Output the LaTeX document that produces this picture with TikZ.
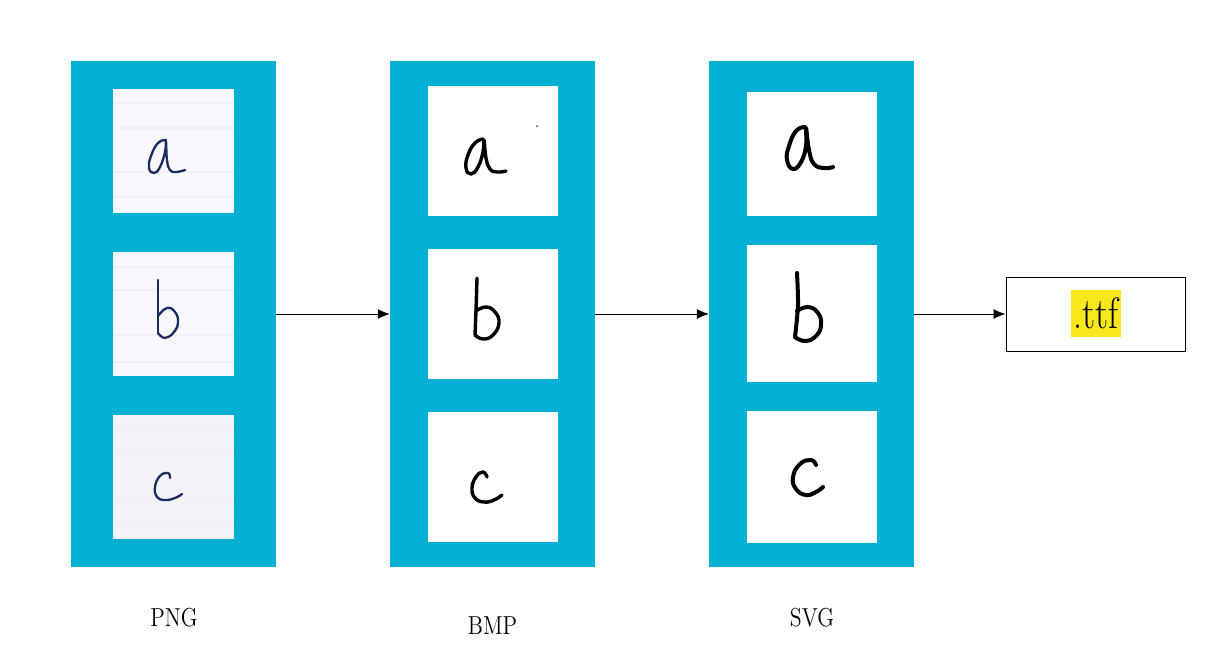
\documentclass[tikz,border=0pt]{standalone}
\usetikzlibrary{arrows.meta}
\definecolor{panelblue}{HTML}{01B0D3}
\definecolor{paper}{HTML}{F8F8FC}
\definecolor{paperline}{HTML}{F0F0F5}
\definecolor{penblue}{HTML}{1C2A62}
\definecolor{hilite}{HTML}{F8E71C}
\tikzset{
  panel/.style={fill=panelblue,draw=none,inner sep=0,outer sep=0,minimum width=102.75pt,minimum height=253pt},
  card/.style={fill=white,draw=none,inner sep=0,outer sep=0},
  pngcard/.style={fill=paper,draw=none,inner sep=0,outer sep=0,minimum width=60.5pt,minimum height=62pt},
  rule/.style={paperline,line width=.9pt},
  conn/.style={-{Latex[length=6pt,width=5pt]},line width=.5pt,draw=black},
  caption/.style={inner sep=0,font=\fontsize{13}{15}\selectfont,xscale=.84},
  pen/.style={line cap=round,line join=round},
  inkp/.style={pen,penblue,line width=1.15pt},
  inkb/.style={pen,black,line width=1.7pt},
  inks/.style={pen,black,line width=2pt}
}
\begin{document}
\begin{tikzpicture}[x=.5pt,y=-.5pt]
\useasboundingbox (0,0) rectangle (1232,671);
% panels
\node[panel] (png) at (173.6,314) {};
\node[panel] (bmp) at (492.6,314) {};
\node[panel] (svg) at (811.6,314) {};
% PNG cards
\node[pngcard] (pa) at (173.5,151) {};
\node[pngcard] (pb) at (173.5,314) {};
\node[pngcard,fill=paper!98!black] (pc) at (173.5,477) {};
\foreach \y in {103,128,172,197,267,290,335,362,427,453,498,525}
  \draw[rule] (113,\y) -- (234,\y);
% BMP cards
\node[card,minimum width=65pt,minimum height=65pt] (ba) at (493,151) {};
\node[card,minimum width=65pt,minimum height=65pt] (bb) at (493,314) {};
\node[card,minimum width=65pt,minimum height=65pt] (bc) at (493,477) {};
\fill[black!70] (537,126) circle (.5pt);
% SVG cards
\node[card,minimum width=65pt,minimum height=62pt] (sa) at (812,154) {};
\node[card,minimum width=65pt,minimum height=68.5pt] (sb) at (812,313.5) {};
\node[card,minimum width=65pt,minimum height=66pt] (sc) at (812,477) {};
% handwriting, PNG
\draw[inkp] plot[smooth,tension=.8] coordinates {(166,140) (158,143) (151,156) (149,168) (154,173) (160,167) (165,152) (166,141) (167,160) (170,170) (176,172) (185,170)};
\draw[inkp] plot[smooth,tension=.5] coordinates {(158,280) (158,310) (158,333)};
\draw[inkp] plot[smooth,tension=.8] coordinates {(158,316) (167,308) (175,312) (178,322) (174,332) (165,338) (158,333)};
\draw[inkp] plot[smooth,tension=.8] coordinates {(170,478) (168,473) (160,476) (155,487) (157,497) (165,500) (175,498) (182,494)};
% handwriting, BMP
\draw[inkb] plot[smooth,tension=.8] coordinates {(483,139) (475,143) (468,155) (466,168) (471,174) (478,167) (483,152) (484,140) (486,158) (490,169) (497,172) (506,171)};
\draw[inkb] plot[smooth,tension=.5] coordinates {(477,278) (476,310) (475,335)};
\draw[inkb] plot[smooth,tension=.8] coordinates {(476,311) (486,307) (495,312) (499,323) (493,335) (483,339) (475,335)};
\draw[inkb] plot[smooth,tension=.8] coordinates {(487,477) (483,472) (476,477) (472,488) (475,498) (484,502) (494,500) (502,495)};
% handwriting, SVG
\draw[inks] plot[smooth,tension=.8] coordinates {(805,127) (796,131) (789,146) (787,160) (793,169) (801,162) (806,146) (806,128) (809,150) (814,164) (824,168) (833,167)};
\draw[inks] plot[smooth,tension=.5] coordinates {(797,273) (798,305) (795,337)};
\draw[inks] plot[smooth,tension=.8] coordinates {(797,311) (808,307) (818,313) (821,325) (816,336) (805,341) (795,337)};
\draw[inks] plot[smooth,tension=.8] coordinates {(816,465) (811,460) (800,464) (793,477) (796,489) (806,495) (816,492) (823,487)};
% target
\node[draw=black,line width=.5pt,fill=white,inner sep=0,minimum width=89.5pt,minimum height=37pt] (ttf) at (1095.5,314) {};
\node[fill=hilite,inner sep=0,minimum width=25pt,minimum height=23.5pt] (hl) at (1096,313.5) {};
\node[inner sep=0,font=\fontsize{22}{24}\selectfont,xscale=.83] (ttftext) at (1096,313) {.ttf};
% connectors
\draw[conn] (png.east) -- (bmp.west);
\draw[conn] (bmp.east) -- (svg.west);
\draw[conn] (svg.east) -- (ttf.west);
% captions
\node[caption] (lp) at (174,618) {PNG};
\node[caption] (lb) at (492.5,626) {BMP};
\node[caption] (ls) at (812,618) {SVG};
\end{tikzpicture}
\end{document}
